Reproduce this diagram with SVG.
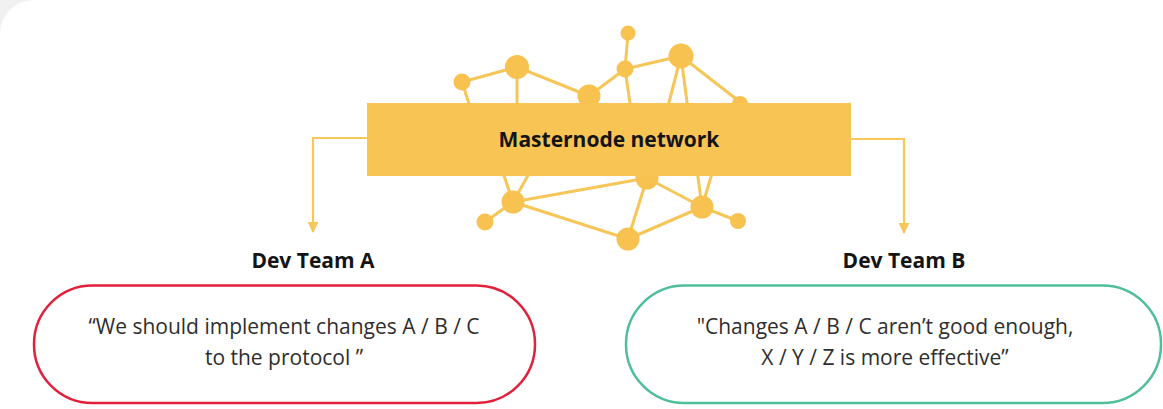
<svg xmlns="http://www.w3.org/2000/svg" width="1163" height="409" viewBox="0 0 1163 409">
  <defs>
    <style>
      .edge { stroke: #F6C658; stroke-width: 3; stroke-linecap: round; fill: none; }
      .dot { fill: #F7C24F; }
      .link { stroke: #F6C85C; stroke-width: 2.2; fill: none; }
      .title { font-family: "Open Sans", "Liberation Sans", sans-serif; font-weight: 700; fill: #141414; text-anchor: middle; }
      .quote { font-family: "Open Sans", "Liberation Sans", sans-serif; font-size: 21px; fill: #2e2e2e; text-anchor: middle; }
    </style>
    <marker id="arrow" viewBox="0 0 10 10" refX="9" refY="5" markerWidth="11" markerHeight="11" markerUnits="userSpaceOnUse" orient="auto">
      <path d="M0,0 L10,5 L0,10 Z" fill="#F6C85C"/>
    </marker>
  </defs>

  <!-- page and card -->
  <rect x="0" y="0" width="1163" height="409" fill="#F1F1F1"/>
  <rect x="0" y="0" width="1200" height="460" rx="34" fill="#FFFFFF"/>

  <!-- mesh behind the banner -->
  <g id="mesh">
    <g class="edge-set">
      <line class="edge" x1="462" y1="82" x2="517" y2="67"/>
      <line class="edge" x1="517" y1="67" x2="589" y2="96"/>
      <line class="edge" x1="589" y1="96" x2="625" y2="69"/>
      <line class="edge" x1="625" y1="69" x2="628" y2="33"/>
      <line class="edge" x1="625" y1="69" x2="681" y2="56"/>
      <line class="edge" x1="517" y1="67" x2="517" y2="110"/>
      <line class="edge" x1="462" y1="82" x2="471" y2="110"/>
      <line class="edge" x1="625" y1="69" x2="631" y2="110"/>
      <line class="edge" x1="681" y1="56" x2="667" y2="110"/>
      <line class="edge" x1="681" y1="56" x2="688" y2="110"/>
      <line class="edge" x1="681" y1="56" x2="740" y2="102"/>
      <line class="edge" x1="513" y1="202" x2="502" y2="170"/>
      <line class="edge" x1="513" y1="202" x2="531" y2="170"/>
      <line class="edge" x1="513" y1="202" x2="485" y2="222"/>
      <line class="edge" x1="513" y1="202" x2="647" y2="178"/>
      <line class="edge" x1="513" y1="202" x2="628" y2="239"/>
      <line class="edge" x1="628" y1="239" x2="647" y2="178"/>
      <line class="edge" x1="628" y1="239" x2="702" y2="207"/>
      <line class="edge" x1="647" y1="178" x2="702" y2="207"/>
      <line class="edge" x1="702" y1="207" x2="738" y2="221"/>
      <line class="edge" x1="702" y1="207" x2="697" y2="170"/>
      <line class="edge" x1="702" y1="207" x2="713" y2="170"/>
    </g>
    <circle class="dot" cx="462" cy="82" r="8.5"/>
    <circle class="dot" cx="517" cy="67" r="12"/>
    <circle class="dot" cx="589" cy="96" r="11.5"/>
    <circle class="dot" cx="628" cy="33" r="7.5"/>
    <circle class="dot" cx="625" cy="69" r="8.5"/>
    <circle class="dot" cx="681" cy="56" r="12.5"/>
    <circle class="dot" cx="740" cy="104" r="8"/>
    <circle class="dot" cx="647" cy="178" r="11.5"/>
    <circle class="dot" cx="513" cy="202" r="11.5"/>
    <circle class="dot" cx="485" cy="222" r="8.5"/>
    <circle class="dot" cx="702" cy="207" r="11.5"/>
    <circle class="dot" cx="738" cy="221" r="8"/>
    <circle class="dot" cx="628" cy="239" r="11.5"/>
  </g>

  <!-- connectors -->
  <g id="connectors">
    <path class="link" d="M367,138 H313 V232" marker-end="url(#arrow)"/>
    <path class="link" d="M851,139 H904 V233" marker-end="url(#arrow)"/>
  </g>

  <g id="masternode-network">
    <rect x="367" y="103" width="484" height="73" fill="#F8C554"/>
    <text class="title" x="609" y="147" font-size="21">Masternode network</text>
  </g>

  <g id="dev-team-a">
    <text class="title" x="313" y="268" font-size="21">Dev Team A</text>
    <rect x="34" y="285.5" width="501" height="117.5" rx="58.5" fill="#FFFFFF" stroke="#E2203B" stroke-width="2.5"/>
    <text class="quote" x="284" y="334">“We should implement changes A / B / C</text>
    <text class="quote" x="284" y="365">to the protocol ”</text>
  </g>

  <g id="dev-team-b">
    <text class="title" x="904" y="268" font-size="21">Dev Team B</text>
    <rect x="626" y="285.5" width="535" height="117.5" rx="58.5" fill="#FFFFFF" stroke="#4FBF98" stroke-width="2.5"/>
    <text class="quote" x="885" y="334">"Changes A / B / C aren’t good enough,</text>
    <text class="quote" x="885" y="365">X / Y / Z is more effective”</text>
  </g>
</svg>
